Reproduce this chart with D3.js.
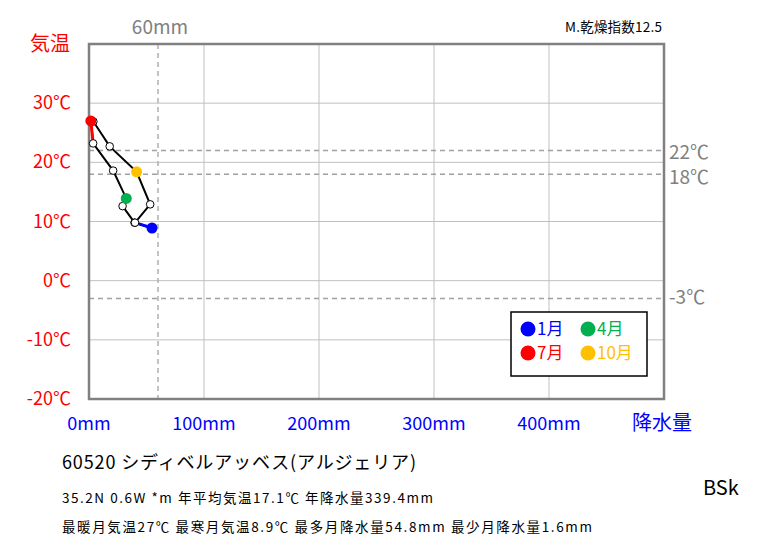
<!DOCTYPE html>
<html><head><meta charset="utf-8">
<script src="https://cdn.jsdelivr.net/npm/d3@7"></script>
<style>body{margin:0;background:#fff;} svg{display:block;font-family:"Noto Sans CJK JP","Noto Sans",sans-serif;}</style>
</head><body>
<svg id="c" width="763" height="545"></svg>
<script>
const months = ["1月","2月","3月","4月","5月","6月","7月","8月","9月","10月","11月","12月"];
const temps = [8.9, 9.8, 12.6, 13.9, 18.6, 23.2, 27.0, 26.9, 22.7, 18.4, 12.9, 9.8];
const precip = [54.8, 39.6, 29.2, 32.4, 21.0, 3.6, 1.6, 3.8, 18.0, 41.4, 53.2, 40.0];
const yTicks = [-20,-10,0,10,20,30];
const xTicks = [0,100,200,300,400];
const refTemps = [22, 18, -3];
const refPrecip = 60;
const highlight = [{m:0,color:"#0000ff"},{m:3,color:"#00b050"},{m:6,color:"#ff0000"},{m:9,color:"#ffc000"}];
const titleText = "60520  シディベルアッベス(アルジェリア)";
const info1 = "35.2N  0.6W *m  年平均気温17.1℃ 年降水量339.4mm";
const info2 = "最暖月気温27℃ 最寒月気温8.9℃ 最多月降水量54.8mm 最少月降水量1.6mm";
const climate = "BSk";
const aridity = "M.乾燥指数12.5";

const svg = d3.select("#c");
const L=89, R=664, T=44, B=399;
const x = d3.scaleLinear().domain([0,500]).range([L,R]);
const y = d3.scaleLinear().domain([-20,40]).range([B,T]);

// grid
const g = svg.append("g");
g.selectAll(".vg").data(d3.range(100,500,100)).enter().append("line")
 .attr("x1",d=>x(d)).attr("x2",d=>x(d)).attr("y1",T).attr("y2",B).attr("stroke","#c0c0c0").attr("stroke-width",1);
g.selectAll(".hg").data(d3.range(-10,40,10)).enter().append("line")
 .attr("x1",L).attr("x2",R).attr("y1",d=>y(d)).attr("y2",d=>y(d)).attr("stroke","#c0c0c0").attr("stroke-width",1);
// ref dashed
g.selectAll(".rt").data(refTemps).enter().append("line")
 .attr("x1",L).attr("x2",R).attr("y1",d=>y(d)).attr("y2",d=>y(d)).attr("stroke","#a0a0a0").attr("stroke-width",1.5).attr("stroke-dasharray","5,4");
g.append("line").attr("x1",x(refPrecip)).attr("x2",x(refPrecip)).attr("y1",T).attr("y2",B)
 .attr("stroke","#b0b0b0").attr("stroke-width",1.5).attr("stroke-dasharray","5,4");
// frame
svg.append("rect").attr("x",L).attr("y",T).attr("width",R-L).attr("height",B-T).attr("fill","none").attr("stroke","#808080").attr("stroke-width",2.5);

// labels
svg.selectAll(".yl").data(yTicks).enter().append("text")
 .attr("x",71).attr("y",d=>y(d)+6).attr("text-anchor","end").attr("fill","#ff0000").attr("font-size",18).text(d=>d+"℃");
svg.append("text").attr("x",30).attr("y",51).attr("fill","#ff0000").attr("font-size",20).text("気温");
svg.selectAll(".xl").data(xTicks).enter().append("text")
 .attr("x",d=>x(d)).attr("y",430).attr("text-anchor","middle").attr("fill","#0000ff").attr("font-size",18).text(d=>d+"mm");
svg.append("text").attr("x",662).attr("y",430).attr("text-anchor","middle").attr("fill","#0000ff").attr("font-size",20).text("降水量");
svg.append("text").attr("x",x(refPrecip)+2).attr("y",34).attr("text-anchor","middle").attr("fill","#808080").attr("font-size",19).text(refPrecip+"mm");
svg.selectAll(".rl").data(refTemps).enter().append("text")
 .attr("x",669).attr("y",d=>y(d)+ (d===22?8:(d===18?10:6))).attr("fill","#808080").attr("font-size",19).text(d=>d+"℃");
svg.append("text").attr("x",662).attr("y",32).attr("text-anchor","end").attr("fill","#000").attr("font-size",13.5)
 .attr("textLength",97).attr("lengthAdjust","spacing").text(aridity);

// path
const pts = months.map((m,i)=>({m:i,t:temps[i],p:precip[i]}));
const loop = pts.concat([pts[0]]);
const line = d3.line().x(d=>x(d.p)).y(d=>y(d.t));
svg.append("path").attr("d",line(loop)).attr("fill","none").attr("stroke","#000").attr("stroke-width",2);
// colored segments: previous month -> highlighted month (Jan, Jul)
[{m:0,color:"#0000ff"},{m:6,color:"#ff0000"}].forEach(h=>{
  const prev = pts[(h.m+11)%12], cur = pts[h.m];
  svg.append("path").attr("d",line([prev,cur])).attr("stroke",h.color).attr("stroke-width",3).attr("fill","none");
});
const hiSet = new Set(highlight.map(h=>h.m));
svg.selectAll(".pt").data(pts.filter(d=>!hiSet.has(d.m))).enter().append("circle")
 .attr("cx",d=>x(d.p)).attr("cy",d=>y(d.t)).attr("r",3.8).attr("fill","#fff").attr("stroke","#000").attr("stroke-width",1);
svg.selectAll(".hp").data(highlight).enter().append("circle")
 .attr("cx",d=>x(pts[d.m].p)).attr("cy",d=>y(pts[d.m].t)).attr("r",5.5).attr("fill",d=>d.color);

// legend
const lg = svg.append("g");
lg.append("rect").attr("x",511).attr("y",312).attr("width",136).attr("height",64).attr("fill","#fff").attr("stroke","#000").attr("stroke-width",1.5);
highlight.forEach((h,i)=>{
  const cx = 528 + (i%2)*60, cy = 329 + Math.floor(i/2)*24;
  lg.append("circle").attr("cx",cx).attr("cy",cy).attr("r",7.5).attr("fill",h.color);
  lg.append("text").attr("x",cx+9).attr("y",cy+6).attr("fill",h.color).attr("font-size",17).text(months[h.m]);
});

// bottom texts
svg.append("text").attr("x",62).attr("y",469).attr("font-size",18).attr("fill","#000")
 .attr("textLength",354).attr("lengthAdjust","spacing").text(titleText);
svg.append("text").attr("x",62).attr("y",503).attr("font-size",13.5).attr("fill","#000")
 .attr("textLength",371).attr("lengthAdjust","spacing").text(info1);
svg.append("text").attr("x",62).attr("y",532).attr("font-size",13.5).attr("fill","#000")
 .attr("textLength",530).attr("lengthAdjust","spacing").text(info2);
svg.append("text").attr("x",703).attr("y",495).attr("font-size",20).attr("fill","#000").text(climate);
</script>
</body></html>
